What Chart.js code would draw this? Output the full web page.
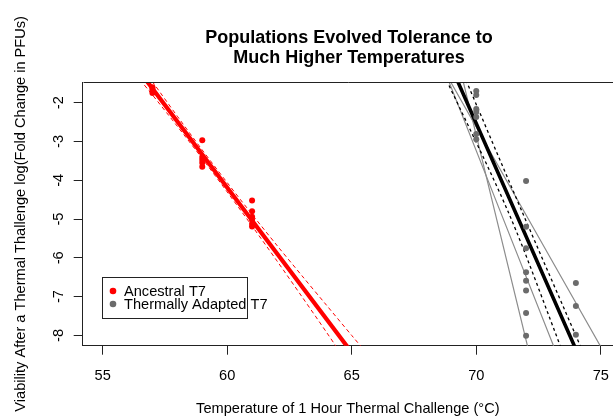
<!DOCTYPE html>
<html>
<head>
<meta charset="utf-8">
<script src="https://cdn.jsdelivr.net/npm/chart.js@4.4.1/dist/chart.umd.min.js"></script>
<style>
  html, body { margin: 0; padding: 0; background: #fff; }
  #wrap { width: 613px; height: 418px; }
</style>
</head>
<body>
<div id="wrap"><canvas id="chart" width="613" height="418"></canvas></div>
<script>
const FONT = "'Liberation Sans', Arial, sans-serif";

const chartTitle = ['Populations Evolved Tolerance to', 'Much Higher Temperatures'];
const xTitle = 'Temperature of 1 Hour Thermal Challenge (°C)';
const yTitle = 'Viability After a Thermal Thallenge log(Fold Change in PFUs)';
const xTicks = [55, 60, 65, 70, 75];
const yTicks = [-2, -3, -4, -5, -6, -7, -8];
const seriesNames = ['Ancestral T7', 'Thermally Adapted T7'];

// measured populations
const ancTemp = [57, 57, 57, 57, 59, 59, 59, 59, 59, 61, 61, 61, 61, 61, 61];
const ancViab = [-1.60, -1.65, -1.70, -1.75, -2.97, -3.40, -3.47, -3.55, -3.65, -4.52, -4.80, -4.94, -5.02, -5.12, -5.19];
const adpTemp = [70, 70, 70, 70, 70, 70, 70, 72, 72, 72, 72, 72, 72, 72, 72, 74, 74, 74];
const adpViab = [-1.70, -1.80, -2.16, -2.24, -2.37, -2.81, -2.94, -4.02, -5.20, -5.75, -6.37, -6.59, -6.84, -7.42, -8.01, -6.65, -7.24, -7.98];

// ancestral fit and confidence band
const ancFitX = [56.5, 66];
const ancFitY = [-1.21, -9.29];
const ancBandX = [56.5, 57, 58, 59, 60, 61, 62, 63, 64, 65, 66];
const ancUpper = [-1.01, -1.46, -2.35, -3.22, -4.06, -4.88, -5.68, -6.46, -7.23, -8.00, -8.76];
const ancLower = [-1.41, -1.80, -2.61, -3.44, -4.30, -5.18, -6.08, -7.00, -7.93, -8.88, -9.82];

// adapted fit, confidence band and the thin grey lines
const adpFitX = [69.0, 74.2];
const adpFitY = [-1.08, -8.65];
const adpLowerX = [68.6, 71.32, 73.5];
const adpLowerY = [-1.14, -4.87, -8.48];
const adpUpperX = [69.4, 71.88, 74.3];
const adpUpperY = [-1.14, -4.87, -8.45];
const greyAX = [69.3, 72.2];
const greyAY = [-0.99, -8.65];
const greyBX = [68.8, 75.2];
const greyBY = [-1.27, -8.52];
const greyCX = [68.7, 73.3];
const greyCY = [-1.13, -8.59];

const pts = (xs, ys) => xs.map((x, i) => ({ x: x, y: ys[i] }));

const RED = '#ff0000';
const GREY_PT = '#6b6b6b';
const TXT = 14.6;

function lineSet(xs, ys, color, width, dash) {
  return {
    data: pts(xs, ys),
    showLine: true,
    borderColor: color,
    borderWidth: width,
    borderDash: dash || [],
    pointRadius: 0,
    tension: 0.3,
    fill: false
  };
}

const decor = {
  id: 'decor',
  afterDraw(chart) {
    const { ctx, chartArea: a, scales: { y } } = chart;
    ctx.save();

    // top edge of the plot box
    ctx.strokeStyle = '#222';
    ctx.lineWidth = 1;
    ctx.beginPath();
    ctx.moveTo(Math.round(a.left) + 0.5, Math.round(a.top) + 0.5);
    ctx.lineTo(a.right + 5, Math.round(a.top) + 0.5);
    ctx.stroke();

    // title
    ctx.fillStyle = '#000';
    ctx.textAlign = 'center';
    ctx.textBaseline = 'alphabetic';
    ctx.font = 'bold 18px ' + FONT;
    chartTitle.forEach((t, i) => ctx.fillText(t, 349, 43 + i * 20));

    // y tick labels, rotated like R
    ctx.font = TXT + 'px ' + FONT;
    ctx.textBaseline = 'middle';
    yTicks.forEach(v => {
      const py = y.getPixelForValue(v);
      ctx.save();
      ctx.translate(59, py);
      ctx.rotate(-Math.PI / 2);
      ctx.fillText(String(v), 0, 0);
      ctx.restore();
    });

    // y axis title
    ctx.save();
    ctx.translate(21, (a.top + a.bottom) / 2);
    ctx.rotate(-Math.PI / 2);
    ctx.fillText(yTitle, 0, 0);
    ctx.restore();

    // legend
    const lx = 102.5, ly = 277.5, lw = 145, lh = 41;
    ctx.fillStyle = '#fff';
    ctx.fillRect(lx, ly, lw, lh);
    ctx.strokeStyle = '#222';
    ctx.strokeRect(lx, ly, lw, lh);
    const dsets = chart.data.datasets;
    [0, 1].forEach(i => {
      const cy = 291 + i * 13;
      ctx.fillStyle = dsets[i].backgroundColor;
      ctx.beginPath();
      ctx.arc(113, cy, 3.3, 0, Math.PI * 2);
      ctx.fill();
      ctx.fillStyle = '#000';
      ctx.textAlign = 'left';
      ctx.fillText(dsets[i].label, 124, cy + 1);
    });
    ctx.restore();
  }
};

new Chart(document.getElementById('chart').getContext('2d'), {
  type: 'scatter',
  data: {
    datasets: [
      { label: seriesNames[0], data: pts(ancTemp, ancViab), backgroundColor: RED, borderWidth: 0, pointRadius: 3 },
      { label: seriesNames[1], data: pts(adpTemp, adpViab), backgroundColor: GREY_PT, borderWidth: 0, pointRadius: 3 },
      lineSet(ancFitX, ancFitY, RED, 4.2),
      lineSet(ancBandX, ancUpper, RED, 1, [4, 3]),
      lineSet(ancBandX, ancLower, RED, 1, [4, 3]),
      lineSet(adpFitX, adpFitY, '#000', 3.6),
      lineSet(adpLowerX, adpLowerY, '#000', 1.3, [3, 3]),
      lineSet(adpUpperX, adpUpperY, '#000', 1.3, [3, 3]),
      lineSet(greyAX, greyAY, '#8c8c8c', 1.2),
      lineSet(greyBX, greyBY, '#8c8c8c', 1.2),
      lineSet(greyCX, greyCY, '#8c8c8c', 1.2)
    ]
  },
  options: {
    responsive: false,
    animation: false,
    devicePixelRatio: 1,
    layout: { autoPadding: false, padding: { top: 82, left: 0, right: 0, bottom: 0 } },
    plugins: { legend: { display: false }, tooltip: { enabled: false } },
    scales: {
      x: {
        type: 'linear',
        min: 54.2,
        max: 75.49,
        afterBuildTicks: s => { s.ticks = xTicks.map(v => ({ value: v })); },
        afterFit: s => { s.height = 72.3; s.paddingLeft = 0; s.paddingRight = 0; },
        grid: { display: true, drawOnChartArea: false, drawTicks: true, tickLength: 9, tickColor: '#222', tickWidth: 1 },
        border: { display: true, color: '#222', width: 1 },
        ticks: { color: '#000', font: { family: FONT, size: TXT }, padding: 13, maxRotation: 0, autoSkip: false },
        title: { display: true, text: xTitle, color: '#000', font: { family: FONT, size: TXT }, padding: { top: 0, bottom: 0 } }
      },
      y: {
        type: 'linear',
        min: -8.265,
        max: -1.467,
        afterBuildTicks: s => { s.ticks = yTicks.map(v => ({ value: v })); },
        afterFit: s => { s.width = 82.7; s.paddingTop = 0; s.paddingBottom = 0; },
        grid: { display: true, drawOnChartArea: false, drawTicks: true, tickLength: 9, tickColor: '#222', tickWidth: 1 },
        border: { display: true, color: '#222', width: 1 },
        ticks: { display: false }
      }
    }
  },
  plugins: [decor]
});
</script>
</body>
</html>
